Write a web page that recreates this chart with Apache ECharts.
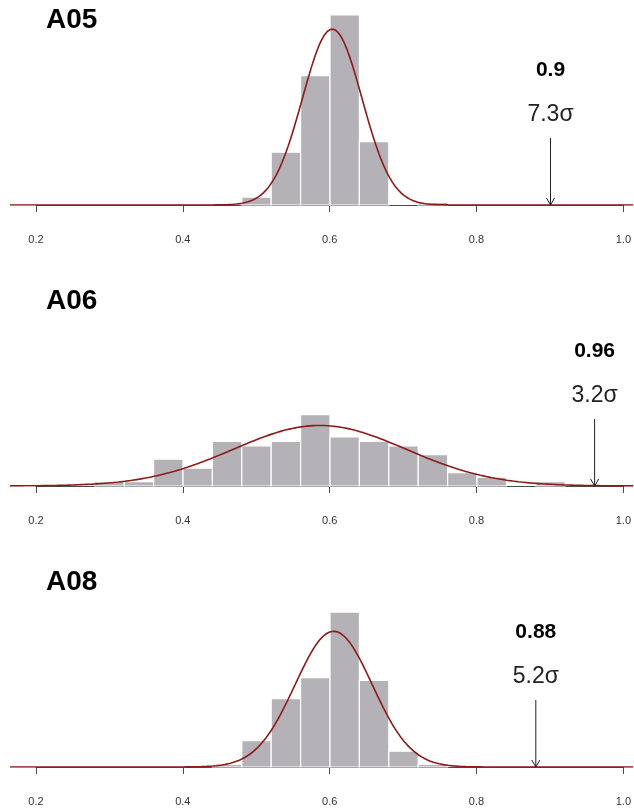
<!DOCTYPE html>
<html><head><meta charset="utf-8">
<script src="https://cdn.jsdelivr.net/npm/echarts@6/dist/echarts.min.js"></script>
<style>html,body{margin:0;padding:0;background:#fff}#c{width:634px;height:812px}</style>
</head><body><div id="c"></div>
<script>
// ---- data ----
const panelNames = ['A05', 'A06', 'A08'];
const binWidth = 0.04;
const a05BinStarts = [0.48, 0.52, 0.56, 0.60, 0.64, 0.68, 0.72];
const a05Counts    = [3, 20, 49, 72, 24, 0, 1];
const a06BinStarts = [0.28, 0.32, 0.36, 0.40, 0.44, 0.48, 0.52, 0.56, 0.60, 0.64, 0.68, 0.72, 0.76, 0.80, 0.84, 0.88];
const a06Counts    = [1, 1, 6, 4, 10, 9, 10, 16, 11, 10, 9, 7, 3, 2, 0, 1];
const a08BinStarts = [0.44, 0.48, 0.52, 0.56, 0.60, 0.64, 0.68, 0.72];
const a08Counts    = [1, 10, 26, 34, 59, 33, 6, 1];
const fitMeans = [0.603, 0.586, 0.605];
const fitSds   = [0.0405, 0.1177, 0.0525];
const markValues = [0.9, 0.96, 0.88];
const markLabels = ['0.9', '0.96', '0.88'];
const sigmaLabels = ['7.3σ', '3.2σ', '5.2σ'];
const xTickValues = [0.2, 0.4, 0.6, 0.8, 1.0];

const binStarts = [a05BinStarts, a06BinStarts, a08BinStarts];
const binCounts = [a05Counts, a06Counts, a08Counts];

// ---- layout ----
const FONT = '"Liberation Sans", Arial, Helvetica, sans-serif';
const baselines = [205, 486, 767];
const plotH = 200;
const yMax = 11.2;
const pxPerUnit = 735;
const plotLeft = 10;
const plotMin = 0.2 - (36 - plotLeft) / pxPerUnit;
const plotMax = plotMin + (634 - plotLeft) / pxPerUnit;
const BAR_COLOR = '#b4b2b6';
const CURVE_COLOR = '#8b1a1a';

const grids = [], xAxes = [], yAxes = [], series = [], graphics = [];

function pdf(x, m, s) {
  return Math.exp(-0.5 * ((x - m) / s) * ((x - m) / s)) / (s * Math.sqrt(2 * Math.PI));
}

panelNames.forEach((name, p) => {
  const B = baselines[p];
  const top = B - plotH;
  grids.push({ left: plotLeft, right: 0, top: top, height: plotH, containLabel: false });
  grids.push({ left: 36, right: 10, top: top, height: plotH, containLabel: false });
  const gPlot = 2 * p, gAxis = 2 * p + 1;

  xAxes.push({ gridIndex: gPlot, type: 'value', min: plotMin, max: plotMax, show: false });
  yAxes.push({ gridIndex: gPlot, type: 'value', min: 0, max: yMax, show: false });

  xAxes.push({
    gridIndex: gAxis, type: 'value', min: xTickValues[0], max: xTickValues[xTickValues.length - 1],
    interval: 0.2, position: 'bottom', offset: 9,
    axisLine: { show: true, lineStyle: { color: '#4a4a4a', width: 1 } },
    axisTick: { show: true, inside: false, length: 7, lineStyle: { color: '#4a4a4a', width: 1 } },
    axisLabel: { show: true, margin: 20, fontSize: 11, color: '#333', fontFamily: FONT,
      formatter: v => v.toFixed(1), showMinLabel: true, showMaxLabel: true },
    splitLine: { show: false }
  });
  yAxes.push({ gridIndex: gAxis, type: 'value', min: 0, max: yMax, show: false });

  const N = binCounts[p].reduce((a, b) => a + b, 0);
  const barData = binStarts[p].map((s, i) => [s, s + binWidth, binCounts[p][i] / (N * binWidth)]);

  series.push({
    type: 'custom', xAxisIndex: gPlot, yAxisIndex: gPlot, z: 2, silent: true,
    encode: { x: [0, 1], y: 2 },
    data: barData,
    renderItem: (params, api) => {
      const h = api.value(2);
      if (!(h > 0)) return null;
      const p0 = api.coord([api.value(0), 0]);
      const p1 = api.coord([api.value(1), h]);
      return {
        type: 'rect',
        shape: { x: p0[0], y: p1[1], width: p1[0] - p0[0], height: p0[1] - p1[1] },
        style: { fill: BAR_COLOR, stroke: '#ffffff', lineWidth: 1.2 }
      };
    }
  });

  const curve = [];
  for (let x = plotMin; x <= plotMax + 1e-9; x += 0.002) {
    curve.push([x, pdf(x, fitMeans[p], fitSds[p])]);
  }
  series.push({
    type: 'line', xAxisIndex: gPlot, yAxisIndex: gPlot, z: 3, silent: true,
    data: curve, showSymbol: false, symbol: 'none', smooth: false,
    lineStyle: { color: CURVE_COLOR, width: 1.6 }
  });

  series.push({
    type: 'custom', xAxisIndex: gPlot, yAxisIndex: gPlot, z: 4, silent: true,
    data: [[markValues[p], 0]],
    renderItem: (params, api) => {
      const pt = api.coord([api.value(0), 0]);
      const x = pt[0], y = pt[1];
      return {
        type: 'group',
        children: [
          { type: 'line', shape: { x1: x, y1: y - 67, x2: x, y2: y },
            style: { stroke: '#222', lineWidth: 1 } },
          { type: 'polyline', shape: { points: [[x - 4, y - 7], [x, y], [x + 4, y - 7]] },
            style: { stroke: '#222', lineWidth: 1, fill: null } },
          { type: 'text', x: x, y: y - 135,
            style: { text: markLabels[p], fill: '#000', font: 'bold 21px ' + FONT,
              textAlign: 'center', textVerticalAlign: 'middle' } },
          { type: 'text', x: x, y: y - 90,
            style: { text: sigmaLabels[p], fill: '#222', font: '23px ' + FONT,
              textAlign: 'center', textVerticalAlign: 'middle' } }
        ]
      };
    }
  });

  graphics.push({
    type: 'text', left: 46, top: B - 184 - 15,
    style: { text: name, fill: '#000', font: 'bold 28px ' + FONT }
  });
});

const chart = echarts.init(document.getElementById('c'), null, { renderer: 'canvas' });
chart.setOption({
  animation: false,
  backgroundColor: '#ffffff',
  grid: grids, xAxis: xAxes, yAxis: yAxes, series: series, graphic: graphics
});
</script></body></html>
